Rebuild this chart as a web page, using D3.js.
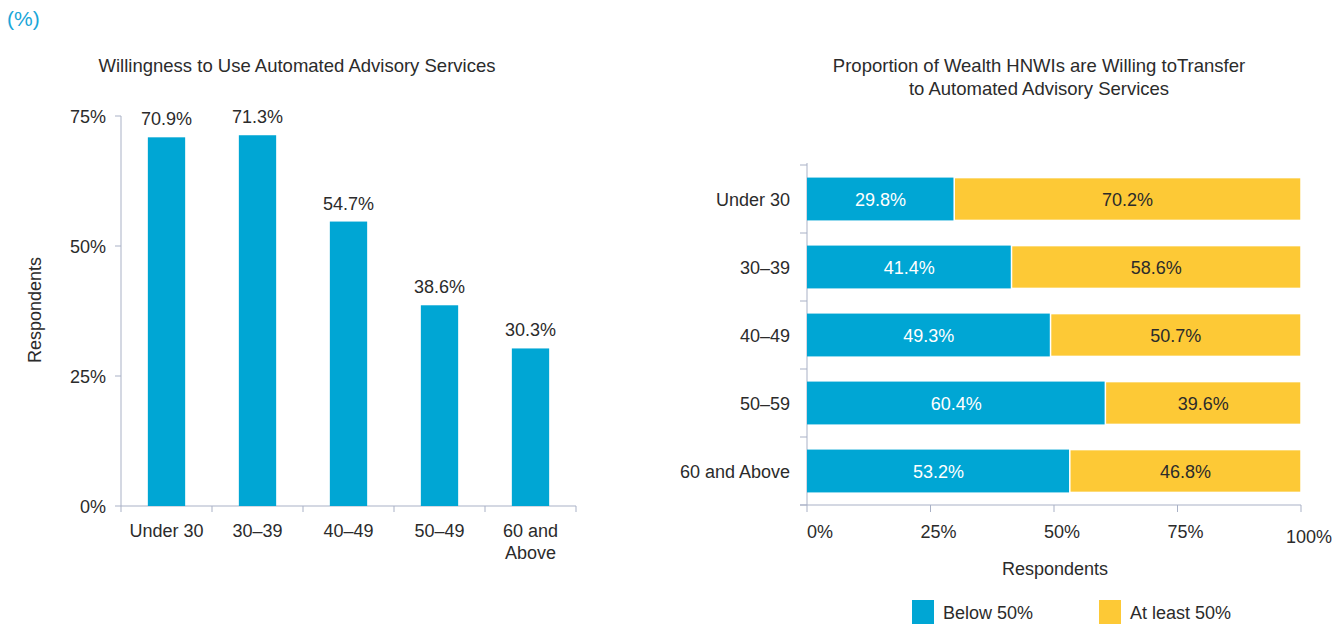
<!DOCTYPE html>
<html>
<head>
<meta charset="utf-8">
<script src="https://cdn.jsdelivr.net/npm/d3@7"></script>
<style>
  body { margin: 0; background: #fff; }
  svg { font-family: "Liberation Sans", Arial, sans-serif; }
  text { fill: #2b2b2b; }
</style>
</head>
<body>
<svg width="1339" height="624"></svg>
<script>
// Данные: левый график
const leftCategories = ["Under 30", "30–39", "40–49", "50–49", "60 and Above"];
const willingness = [70.9, 71.3, 54.7, 38.6, 30.3];
const leftTicks = [0, 25, 50, 75];

// Данные: правый график
const rightCategories = ["Under 30", "30–39", "40–49", "50–59", "60 and Above"];
const below50 = [29.8, 41.4, 49.3, 60.4, 53.2];
const atLeast50 = [70.2, 58.6, 50.7, 39.6, 46.8];
const rightTicks = [0, 25, 50, 75, 100];
const legendLabels = ["Below 50%", "At least 50%"];

const blue = "#00a6d4";
const yellow = "#fdc936";
const axisColor = "#a9b1c6";
const fs = "18px";

const svg = d3.select("svg");

// Заголовок единиц
svg.append("text")
    .attr("x", 7).attr("y", 26)
    .style("font-size", "21px")
    .style("fill", "#1aa6d8")
    .text("(%)");

// ---------- Левый график ----------
const xL = d3.scaleBand()
    .domain(leftCategories)
    .range([121, 576])
    .paddingInner(0.59)
    .paddingOuter(0.295);

const yL = d3.scaleLinear()
    .domain([0, 75])
    .range([506, 116]);

const left = svg.append("g");

left.append("text")
    .attr("x", 297).attr("y", 72)
    .attr("text-anchor", "middle")
    .style("font-size", "18.5px")
    .text("Willingness to Use Automated Advisory Services");

// ось Y
left.append("line")
    .attr("x1", 121).attr("x2", 121)
    .attr("y1", yL(75)).attr("y2", yL(0))
    .attr("stroke", axisColor);

left.selectAll(".ytick")
    .data(leftTicks)
    .enter()
    .append("line")
    .attr("x1", 115).attr("x2", 121)
    .attr("y1", d => yL(d)).attr("y2", d => yL(d))
    .attr("stroke", axisColor);

left.selectAll(".ylab")
    .data(leftTicks)
    .enter()
    .append("text")
    .attr("x", 106)
    .attr("y", d => yL(d) + 7)
    .attr("text-anchor", "end")
    .style("font-size", fs)
    .text(d => d + "%");

left.append("text")
    .attr("transform", "translate(41,310) rotate(-90)")
    .attr("text-anchor", "middle")
    .style("font-size", fs)
    .text("Respondents");

// ось X
left.append("line")
    .attr("x1", 121).attr("x2", 576)
    .attr("y1", yL(0)).attr("y2", yL(0))
    .attr("stroke", axisColor);

const boundaries = d3.range(leftCategories.length + 1).map(i => 121 + i * xL.step());
left.selectAll(".xtick")
    .data(boundaries)
    .enter()
    .append("line")
    .attr("x1", d => d).attr("x2", d => d)
    .attr("y1", yL(0)).attr("y2", yL(0) + 6)
    .attr("stroke", axisColor);

leftCategories.forEach(c => {
    const words = c === "60 and Above" ? ["60 and", "Above"] : [c];
    const t = left.append("text")
        .attr("text-anchor", "middle")
        .style("font-size", fs);
    words.forEach((w, i) => {
        t.append("tspan")
            .attr("x", xL(c) + xL.bandwidth() / 2)
            .attr("y", 537 + i * 22)
            .text(w);
    });
});

// столбцы
left.selectAll(".bar")
    .data(willingness)
    .enter()
    .append("rect")
    .attr("x", (d, i) => xL(leftCategories[i]))
    .attr("y", d => yL(d))
    .attr("width", xL.bandwidth())
    .attr("height", d => yL(0) - yL(d))
    .attr("fill", blue);

left.selectAll(".val")
    .data(willingness)
    .enter()
    .append("text")
    .attr("x", (d, i) => xL(leftCategories[i]) + xL.bandwidth() / 2)
    .attr("y", d => yL(d) - 12)
    .attr("text-anchor", "middle")
    .style("font-size", fs)
    .text(d => d.toFixed(1) + "%");

// ---------- Правый график ----------
const xR = d3.scaleLinear()
    .domain([0, 100])
    .range([807, 1301]);

const yR = d3.scaleBand()
    .domain(rightCategories)
    .range([165, 505])
    .paddingInner(0.37)
    .paddingOuter(0.185);

const right = svg.append("g");

right.append("text")
    .attr("x", 1039).attr("y", 72)
    .attr("text-anchor", "middle")
    .style("font-size", "18.5px")
    .text("Proportion of Wealth HNWIs are Willing toTransfer");
right.append("text")
    .attr("x", 1039).attr("y", 95)
    .attr("text-anchor", "middle")
    .style("font-size", "18.5px")
    .text("to Automated Advisory Services");

// ось Y
right.append("line")
    .attr("x1", 807).attr("x2", 807)
    .attr("y1", 163).attr("y2", 505)
    .attr("stroke", axisColor);

const rowBounds = d3.range(rightCategories.length + 1).map(i => 165 + i * yR.step());
right.selectAll(".ytick")
    .data(rowBounds)
    .enter()
    .append("line")
    .attr("x1", 800).attr("x2", 807)
    .attr("y1", d => d).attr("y2", d => d)
    .attr("stroke", axisColor);

right.selectAll(".ylab")
    .data(rightCategories)
    .enter()
    .append("text")
    .attr("x", 790)
    .attr("y", d => yR(d) + yR.bandwidth() / 2 + 7)
    .attr("text-anchor", "end")
    .style("font-size", fs)
    .text(d => d);

// ось X
right.append("line")
    .attr("x1", 800).attr("x2", 1301)
    .attr("y1", 505).attr("y2", 505)
    .attr("stroke", axisColor);

right.selectAll(".xtick")
    .data(rightTicks)
    .enter()
    .append("line")
    .attr("x1", d => xR(d)).attr("x2", d => xR(d))
    .attr("y1", 505).attr("y2", 512)
    .attr("stroke", axisColor);

right.selectAll(".xlab")
    .data(rightTicks)
    .enter()
    .append("text")
    .attr("x", d => xR(d) + (d === 0 ? 0 : 8))
    .attr("y", d => d === 100 ? 543 : 538)
    .attr("text-anchor", d => d === 0 ? "start" : "middle")
    .style("font-size", fs)
    .text(d => d + "%");

right.append("text")
    .attr("x", 1055).attr("y", 575)
    .attr("text-anchor", "middle")
    .style("font-size", fs)
    .text("Respondents");

// сегменты
const rows = right.selectAll(".row")
    .data(rightCategories)
    .enter()
    .append("g");

rows.append("rect")
    .attr("x", xR(0))
    .attr("y", d => yR(d))
    .attr("width", (d, i) => xR(below50[i]) - xR(0))
    .attr("height", yR.bandwidth())
    .attr("fill", blue);

rows.append("rect")
    .attr("x", (d, i) => xR(below50[i]))
    .attr("y", d => yR(d))
    .attr("width", (d, i) => xR(below50[i] + atLeast50[i]) - xR(below50[i]))
    .attr("height", yR.bandwidth())
    .attr("fill", yellow)
    .attr("stroke", "#fff")
    .attr("stroke-width", 1.5);

rows.append("text")
    .attr("x", (d, i) => xR(below50[i] / 2))
    .attr("y", d => yR(d) + yR.bandwidth() / 2 + 7)
    .attr("text-anchor", "middle")
    .style("font-size", fs)
    .style("fill", "#fff")
    .text((d, i) => below50[i].toFixed(1) + "%");

rows.append("text")
    .attr("x", (d, i) => xR(below50[i] + atLeast50[i] / 2))
    .attr("y", d => yR(d) + yR.bandwidth() / 2 + 7)
    .attr("text-anchor", "middle")
    .style("font-size", fs)
    .text((d, i) => atLeast50[i].toFixed(1) + "%");

// легенда
const legendX = [912, 1099];
const legendColors = [blue, yellow];
legendLabels.forEach((l, i) => {
    right.append("rect")
        .attr("x", legendX[i]).attr("y", 600)
        .attr("width", 22).attr("height", 24)
        .attr("fill", legendColors[i]);
    right.append("text")
        .attr("x", legendX[i] + 31).attr("y", 619)
        .style("font-size", fs)
        .text(l);
});
</script>
</body>
</html>
